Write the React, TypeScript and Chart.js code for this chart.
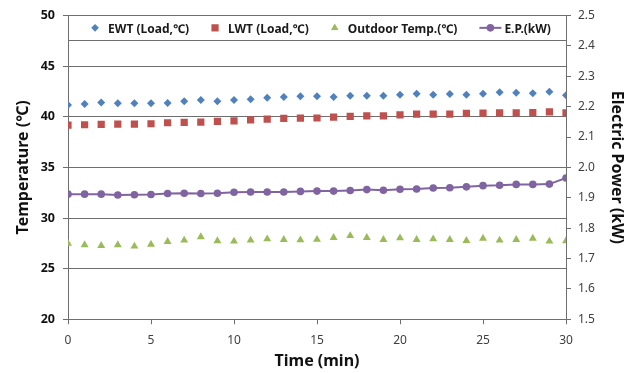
import React, { useEffect, useRef } from 'react';
import { Chart, registerables } from 'chart.js';

Chart.register(...registerables);

const time = [0, 1, 2, 3, 4, 5, 6, 7, 8, 9, 10, 11, 12, 13, 14, 15, 16, 17, 18, 19, 20, 21, 22, 23, 24, 25, 26, 27, 28, 29, 30];
const ewt = [41.17, 41.26, 41.40, 41.33, 41.33, 41.33, 41.36, 41.53, 41.65, 41.53, 41.65, 41.72, 41.89, 41.95, 42.02, 42.02, 41.95, 42.08, 42.08, 42.08, 42.18, 42.28, 42.18, 42.24, 42.18, 42.28, 42.41, 42.38, 42.31, 42.48, 42.12];
const lwt = [39.18, 39.21, 39.25, 39.28, 39.28, 39.31, 39.41, 39.45, 39.48, 39.54, 39.60, 39.70, 39.77, 39.84, 39.87, 39.88, 39.96, 40.03, 40.09, 40.09, 40.19, 40.26, 40.26, 40.26, 40.33, 40.36, 40.38, 40.38, 40.42, 40.48, 40.38];
const outdoor = [27.50, 27.35, 27.28, 27.35, 27.21, 27.40, 27.67, 27.80, 28.13, 27.74, 27.70, 27.80, 27.93, 27.86, 27.83, 27.88, 28.06, 28.25, 28.06, 27.86, 28.03, 27.86, 27.93, 27.86, 27.76, 27.99, 27.80, 27.86, 27.99, 27.70, 27.74];
const ep = [1.912, 1.912, 1.912, 1.909, 1.910, 1.911, 1.914, 1.915, 1.914, 1.915, 1.918, 1.919, 1.919, 1.919, 1.921, 1.922, 1.922, 1.924, 1.927, 1.925, 1.928, 1.929, 1.932, 1.933, 1.936, 1.940, 1.941, 1.944, 1.944, 1.945, 1.965];

const seriesLabels = ['EWT (Load,℃)', 'LWT (Load,℃)', 'Outdoor Temp.(℃)', 'E.P.(kW)'];
const seriesColors = ['#4F81BD', '#C0504D', '#9BBB59', '#8064A2'];
const xTitle = 'Time (min)';
const yTitle = 'Temperature (℃)';
const y1Title = 'Electric Power (kW)';

const FONT = "'Noto Sans', 'Noto Sans CJK KR', sans-serif";
const GRID = '#6e6e6e';

function drawMarker(ctx: CanvasRenderingContext2D, style: string, x: number, y: number, r: number, color: string) {
  ctx.fillStyle = color;
  ctx.beginPath();
  if (style === 'rectRot') {
    ctx.moveTo(x, y - r); ctx.lineTo(x + r, y); ctx.lineTo(x, y + r); ctx.lineTo(x - r, y); ctx.closePath();
  } else if (style === 'rect') {
    const s = r * Math.SQRT1_2;
    ctx.rect(x - s, y - s, 2 * s, 2 * s);
  } else if (style === 'triangle') {
    const w = Math.sin(Math.PI / 3) * r;
    ctx.moveTo(x, y - r); ctx.lineTo(x + w, y + r / 2); ctx.lineTo(x - w, y + r / 2); ctx.closePath();
  } else {
    ctx.arc(x, y, r, 0, Math.PI * 2);
  }
  ctx.fill();
}

const boxLegend = {
  id: 'boxLegend',
  afterDraw(chart: any) {
    const { ctx, chartArea } = chart;
    const top = chartArea.top;
    const h = 24.7;
    ctx.save();
    ctx.fillStyle = '#ffffff';
    ctx.fillRect(chartArea.left + 1, top + 1, chartArea.right - chartArea.left - 2, h - 1);
    ctx.strokeStyle = GRID;
    ctx.lineWidth = 1;
    const by = Math.round(top + h) + 0.5;
    ctx.beginPath(); ctx.moveTo(chartArea.left, by); ctx.lineTo(chartArea.right, by); ctx.stroke();

    ctx.font = `bold 12px ${FONT}`;
    ctx.textBaseline = 'middle';
    ctx.textAlign = 'left';
    const items = chart.data.datasets.map((ds: any) => {
      const isLine = !!ds.showLine;
      const mw = isLine ? 22 : 8;
      const gap = isLine ? 3 : 9;
      const tw = ctx.measureText(ds.label).width;
      return { ds, isLine, mw, gap, tw, w: mw + gap + tw };
    });
    const spacing = 22;
    const total = items.reduce((s: number, it: any) => s + it.w, 0) + spacing * (items.length - 1);
    let x = (chartArea.left + chartArea.right) / 2 + 4 - total / 2;
    const my = top + h / 2;
    items.forEach((it: any) => {
      const ds = it.ds;
      if (it.isLine) {
        ctx.strokeStyle = ds.borderColor;
        ctx.lineWidth = 2;
        ctx.beginPath(); ctx.moveTo(x, my); ctx.lineTo(x + it.mw, my); ctx.stroke();
        drawMarker(ctx, ds.pointStyle, x + it.mw / 2, my, 3.8, ds.pointBackgroundColor);
      } else {
        drawMarker(ctx, ds.pointStyle, x + it.mw / 2, my, ds.pointRadius * (ds.pointStyle === 'rect' ? 1 : 0.95), ds.pointBackgroundColor);
      }
      ctx.fillStyle = '#1a1a1a';
      ctx.fillText(ds.label, x + it.mw + it.gap, my + 1.3);
      x += it.w + spacing;
    });
    ctx.restore();
  },
};

export default function App() {
  const ref = useRef<HTMLCanvasElement>(null);
  useEffect(() => {
    document.body.style.margin = '0';
    const canvas = ref.current;
    if (!canvas) return;
    const pts = (arr: number[]) => time.map((t, i) => ({ x: t, y: arr[i] }));
    const chart = new Chart(canvas, {
      type: 'line',
      data: {
        datasets: [
          { label: seriesLabels[0], data: pts(ewt), showLine: false, pointStyle: 'rectRot', pointRadius: 4, pointBackgroundColor: seriesColors[0], pointBorderWidth: 0, borderColor: seriesColors[0], yAxisID: 'y' },
          { label: seriesLabels[1], data: pts(lwt), showLine: false, pointStyle: 'rect', pointRadius: 5.1, pointBackgroundColor: seriesColors[1], pointBorderWidth: 0, borderColor: seriesColors[1], yAxisID: 'y' },
          { label: seriesLabels[2], data: pts(outdoor), showLine: false, pointStyle: 'triangle', pointRadius: 4.6, pointBackgroundColor: seriesColors[2], pointBorderWidth: 0, borderColor: seriesColors[2], yAxisID: 'y' },
          { label: seriesLabels[3], data: pts(ep), showLine: true, pointStyle: 'circle', pointRadius: 3.8, pointBackgroundColor: seriesColors[3], pointBorderWidth: 0, borderColor: seriesColors[3], borderWidth: 2, tension: 0, yAxisID: 'y1' },
        ] as any,
      },
      options: {
        animation: false,
        responsive: true,
        maintainAspectRatio: false,
        layout: { padding: { top: 12.3, left: 0, right: 0, bottom: 0 } },
        plugins: { legend: { display: false }, tooltip: { enabled: false } },
        scales: {
          x: {
            type: 'linear',
            min: 0,
            max: 30,
            ticks: { stepSize: 5, color: '#404040', font: { family: FONT, size: 12 }, padding: 9.5 },
            grid: { drawOnChartArea: false, drawTicks: true, tickLength: 5, color: GRID },
            border: { color: GRID },
            title: { display: true, text: xTitle, color: '#111', font: { family: FONT, size: 16, weight: 'bold' }, padding: { top: 0, bottom: 2.4 } },
            afterFit: (s: any) => { s.height = 53.7; },
          },
          y: {
            type: 'linear',
            position: 'left',
            min: 20,
            max: 50,
            ticks: { stepSize: 5, color: '#111', font: { family: FONT, size: 12.5, weight: 'bold' }, padding: 8 },
            grid: { color: GRID, tickLength: 5 },
            border: { color: GRID },
            title: { display: true, text: yTitle, color: '#111', font: { family: FONT, size: 16, weight: 'bold' }, padding: { top: 13.4, bottom: 0 } },
            afterFit: (s: any) => { s.width = 68; },
          },
          y1: {
            type: 'linear',
            position: 'right',
            min: 1.5,
            max: 2.5,
            ticks: { stepSize: 0.1, color: '#404040', font: { family: FONT, size: 12 }, padding: 7, callback: (v: any) => Number(v).toFixed(1) },
            grid: { drawOnChartArea: false, tickLength: 5, color: GRID },
            border: { color: GRID },
            title: { display: true, text: y1Title, color: '#111', font: { family: FONT, size: 16, weight: 'bold' }, padding: { top: 4.7, bottom: 0 } },
            afterFit: (s: any) => { s.width = 65; },
          },
        },
      } as any,
      plugins: [boxLegend],
    });
    return () => chart.destroy();
  }, []);
  return (
    <div style={{ width: 631, height: 373, position: 'relative' }}>
      <canvas ref={ref} />
    </div>
  );
}
